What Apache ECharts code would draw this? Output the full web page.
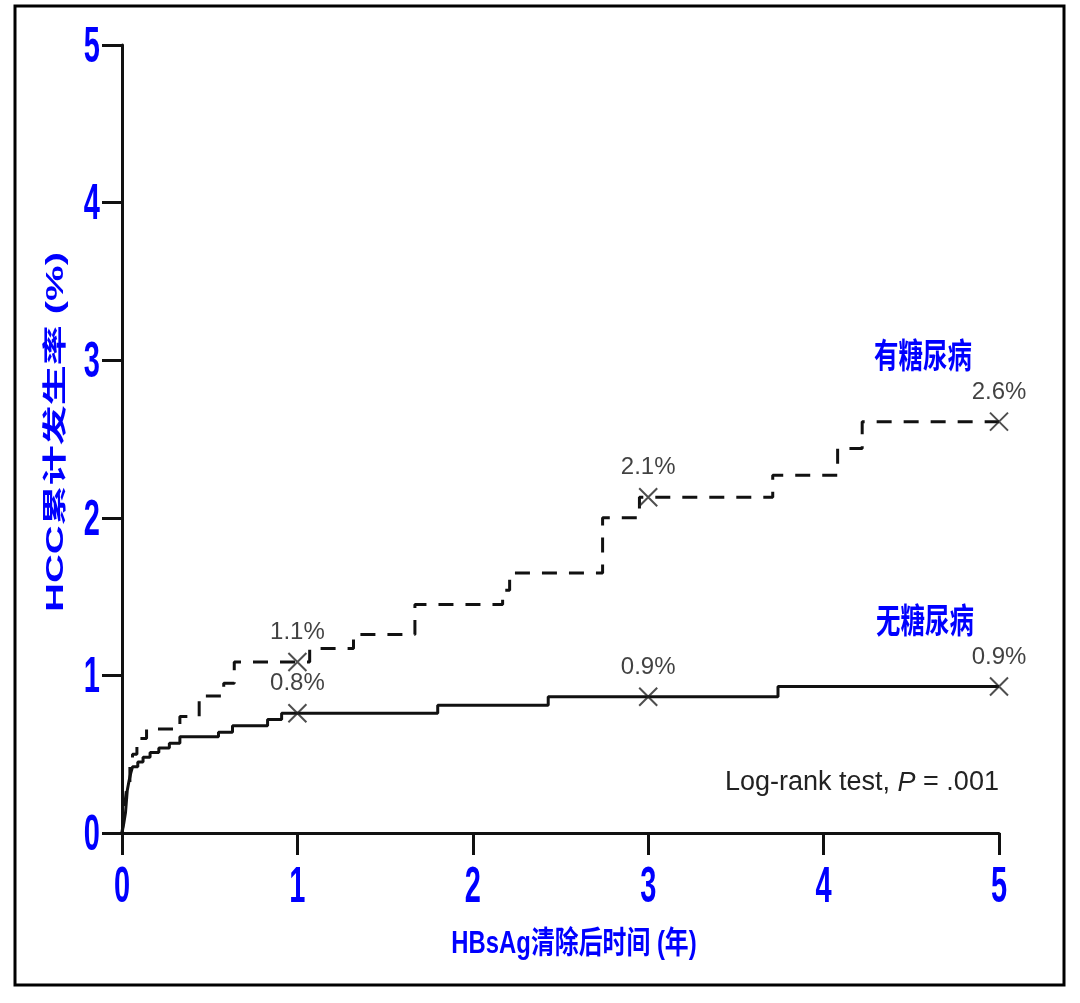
<!DOCTYPE html>
<html>
<head>
<meta charset="utf-8">
<script src="https://cdn.jsdelivr.net/npm/echarts@6/dist/echarts.min.js"></script>
<style>
  html, body { margin: 0; padding: 0; background: #fff; }
  #chart { width: 1080px; height: 1003px; }
</style>
</head>
<body>
<div id="chart"></div>
<script>
// ---- Data ----
const xTicks = [0, 1, 2, 3, 4, 5];
const yTicks = [0, 1, 2, 3, 4, 5];

// 无糖尿病 (no diabetes) – solid step curve
const noDmTime  = [0, 0.01, 0.02, 0.025, 0.03, 0.04, 0.05, 0.06, 0.09, 0.12, 0.16, 0.21, 0.27, 0.33, 0.55, 0.63, 0.83, 0.91, 1.80, 2.43, 3.74, 5.0];
const noDmValue = [0, 0.06, 0.13, 0.20, 0.27, 0.33, 0.38, 0.42, 0.45, 0.48, 0.51, 0.54, 0.57, 0.61, 0.64, 0.68, 0.72, 0.76, 0.81, 0.865, 0.93, 0.93];

// 有糖尿病 (diabetes) – dashed step curve
const dmTime  = [0, 0.01, 0.02, 0.03, 0.045, 0.06, 0.085, 0.14, 0.33, 0.44, 0.58, 0.64, 1.07, 1.32, 1.67, 2.17, 2.21, 2.74, 2.95, 3.71, 4.08, 4.22, 5.0];
const dmValue = [0, 0.10, 0.22, 0.32, 0.42, 0.50, 0.60, 0.66, 0.74, 0.87, 0.95, 1.085, 1.17, 1.26, 1.45, 1.54, 1.65, 2.00, 2.13, 2.27, 2.44, 2.61, 2.61];

// marked (×) time points and their values
const markTimes   = [1, 3, 5];
const noDmMarks   = [0.76, 0.865, 0.93];
const dmMarks     = [1.085, 2.13, 2.61];

const groupNames = ['有糖尿病', '无糖尿病'];
const xTitle = 'HBsAg清除后时间 (年)';
const yTitle = 'HCC累计发生率 (%)';
const testText = 'Log-rank test, ';
const testP = '.001';

// ---- Chart ----
const BLUE = '#0000ff';
const SANS = "'Liberation Sans', Arial, 'Noto Sans CJK SC', sans-serif";

const zip = (a, b) => a.map((v, i) => [v, b[i]]);

const chart = echarts.init(document.getElementById('chart'), null, { renderer: 'canvas' });

const crossSymbol = 'path://M0,0L10,10M10,0L0,10';

const markLabel = {
  show: true,
  position: 'top',
  distance: 6,
  fontSize: 24,
  color: '#111',
  fontFamily: SANS,
  formatter: p => p.value[1].toFixed(1) + '%'
};

const baseGraphics = [
  {
    type: 'rect',
    shape: { x: 15, y: 6, width: 1049, height: 979 },
    style: { fill: 'none', stroke: '#000', lineWidth: 3 },
    silent: true, z: 0
  },
  {
    type: 'text', x: 923, y: 355, scaleX: 0.72,
    style: { text: groupNames[0], fill: BLUE, fontSize: 34, fontWeight: 'bold',
             fontFamily: "'Noto Sans CJK SC', sans-serif", align: 'center', verticalAlign: 'middle' }
  },
  {
    type: 'text', x: 925, y: 620, scaleX: 0.72,
    style: { text: groupNames[1], fill: BLUE, fontSize: 34, fontWeight: 'bold',
             fontFamily: "'Noto Sans CJK SC', sans-serif", align: 'center', verticalAlign: 'middle' }
  },
  {
    type: 'text', x: 725, y: 783,
    style: {
      text: testText + '{i|P} = ' + testP,
      fill: '#222', fontSize: 27, fontFamily: SANS, verticalAlign: 'middle', align: 'left',
      rich: { i: { fontStyle: 'italic', fontSize: 27, fontFamily: SANS, fill: '#222' } }
    }
  },
  {
    type: 'text', x: 574, y: 944, scaleX: 0.77,
    style: { text: xTitle, fill: BLUE, fontSize: 31, fontWeight: 'bold', fontFamily: SANS,
             align: 'center', verticalAlign: 'middle' }
  },
  {
    type: 'text', x: 56, y: 432, rotation: Math.PI / 2, scaleY: 0.6,
    style: { text: yTitle, fill: BLUE, fontSize: 40, fontWeight: 'bold', fontFamily: SANS,
             align: 'center', verticalAlign: 'middle' }
  }
];

chart.setOption({
  backgroundColor: '#fff',
  animation: false,
  grid: { left: 122, right: 81, top: 45, bottom: 170 },
  xAxis: {
    type: 'value',
    min: xTicks[0], max: xTicks[xTicks.length - 1], interval: 1,
    axisLine: { lineStyle: { color: '#111', width: 3 } },
    axisTick: { length: 22, lineStyle: { color: '#111', width: 3 } },
    axisLabel: { show: false },
    splitLine: { show: false }
  },
  yAxis: {
    type: 'value',
    min: yTicks[0], max: yTicks[yTicks.length - 1], interval: 1,
    axisLine: { show: true, lineStyle: { color: '#111', width: 3 } },
    axisTick: { show: true, length: 20, lineStyle: { color: '#111', width: 3 } },
    axisLabel: { show: false },
    splitLine: { show: false }
  },
  series: [
    {
      name: groupNames[0],
      type: 'line',
      step: 'end',
      showSymbol: false,
      data: zip(dmTime, dmValue),
      lineStyle: { color: '#111', width: 3, type: [15, 12] },
      z: 3
    },
    {
      name: groupNames[1],
      type: 'line',
      step: 'end',
      showSymbol: false,
      data: zip(noDmTime, noDmValue),
      lineStyle: { color: '#111', width: 3 },
      z: 3
    },
    {
      type: 'scatter',
      symbol: crossSymbol,
      symbolSize: 18,
      data: zip(markTimes, dmMarks),
      itemStyle: { color: 'none', borderColor: '#222', borderWidth: 2 },
      label: markLabel,
      z: 5
    },
    {
      type: 'scatter',
      symbol: crossSymbol,
      symbolSize: 18,
      data: zip(markTimes, noDmMarks),
      itemStyle: { color: 'none', borderColor: '#222', borderWidth: 2 },
      label: markLabel,
      z: 5
    }
  ],
  graphic: baseGraphics
});

// Tick labels: tall condensed digits, placed through the axes' own scales
const tickStyle = { fill: BLUE, fontSize: 50, fontWeight: 'bold', fontFamily: SANS, verticalAlign: 'middle' };
const tickGraphics = [];
xTicks.forEach(v => {
  const px = chart.convertToPixel({ xAxisIndex: 0 }, v);
  tickGraphics.push({ type: 'text', x: px, y: 888, scaleX: 0.58,
    style: Object.assign({ text: String(v), align: 'center' }, tickStyle) });
});
yTicks.forEach(v => {
  const py = chart.convertToPixel({ yAxisIndex: 0 }, v);
  tickGraphics.push({ type: 'text', x: 100, y: py + 3, scaleX: 0.58,
    style: Object.assign({ text: String(v), align: 'right' }, tickStyle) });
});
chart.setOption({ graphic: baseGraphics.concat(tickGraphics) });
</script>
</body>
</html>
